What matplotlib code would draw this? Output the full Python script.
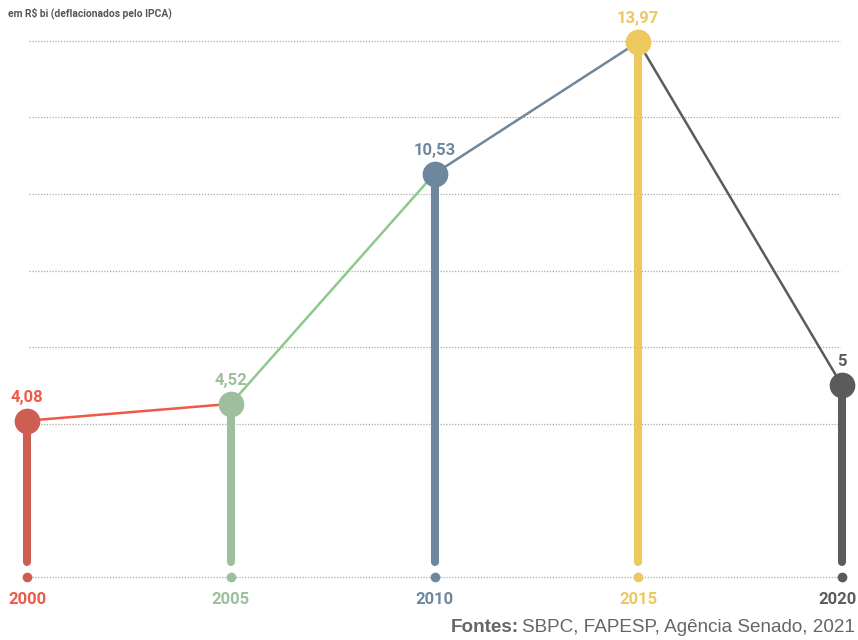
import matplotlib.pyplot as plt

plt.rcParams['font.family'] = ['Roboto', 'DejaVu Sans']

years = [2000, 2005, 2010, 2015, 2020]
values = [4.08, 4.52, 10.53, 13.97, 5.0]
value_labels = ["4,08", "4,52", "10,53", "13,97", "5"]
stem_colors = ["#cd5f52", "#9dbf9c", "#6e879c", "#ecc85f", "#5b5b5b"]
text_colors = ["#f0584a", "#9dbf9c", "#6e879c", "#ecc85f", "#5b5b5b"]
segment_colors = ["#f0584a", "#8cc98c", "#6e879c", "#5b5b5b"]
grid_values = [0, 4, 6, 8, 10, 12, 14]

fig = plt.figure(figsize=(8.58, 6.4), dpi=100)
ax = fig.add_axes([0, 0, 1, 1])
ax.set_xlim(1999.337, 2020.393)
ax.set_ylim(-1.645, 15.065)
ax.axis('off')

# dotted gridlines
for g in grid_values:
    ax.plot([2000.05, 2019.95], [g, g], color="#aaaaaa", lw=0.9,
            ls=(0, (1, 1.3)), zorder=1)

# connecting lines
for i in range(len(years) - 1):
    ax.plot(years[i:i + 2], values[i:i + 2], color=segment_colors[i],
            lw=1.8, zorder=2)

for yr, v, sc, tc, lab in zip(years, values, stem_colors, text_colors,
                              value_labels):
    ax.plot([yr, yr], [0.4, v], color=sc, lw=5.8, solid_capstyle='round',
            zorder=3)
    ax.plot(yr, v, 'o', color=sc, markersize=17.5, zorder=4)
    ax.plot(yr, 0, 'o', color=sc, markersize=6, zorder=4)
    ax.text(yr, v + 0.42, lab, color=tc, fontsize=12, fontweight='bold',
            ha='center', va='bottom', zorder=5)
    # last year label sits against the right edge
    if yr == years[-1]:
        ax.text(yr + 0.36, -0.6, str(yr), color=tc, fontsize=12,
                fontweight='bold', ha='right', va='center', zorder=5)
    else:
        ax.text(yr, -0.6, str(yr), color=tc, fontsize=12, fontweight='bold',
                ha='center', va='center', zorder=5)

fig.text(8 / 858, 1 - 13 / 640, "em R$ bi (deflacionados pelo IPCA)",
         fontsize=7.4, fontweight='bold', color="#555555",
         ha='left', va='center')

t2 = fig.text(855 / 858, 1 - 628 / 640, "SBPC, FAPESP, Agência Senado, 2021",
              fontsize=13.6, color="#666666", ha='right', va='center',
              family=['Liberation Sans', 'DejaVu Sans'])
fig.canvas.draw()
bb = t2.get_window_extent()
fig.text(bb.x0 / 858 - 0.004, 1 - 628 / 640, "Fontes:", fontsize=13.6,
         color="#666666", ha='right', va='center', fontweight='bold',
         family=['Liberation Sans', 'DejaVu Sans'])

fig.savefig("out.png", dpi=100)
